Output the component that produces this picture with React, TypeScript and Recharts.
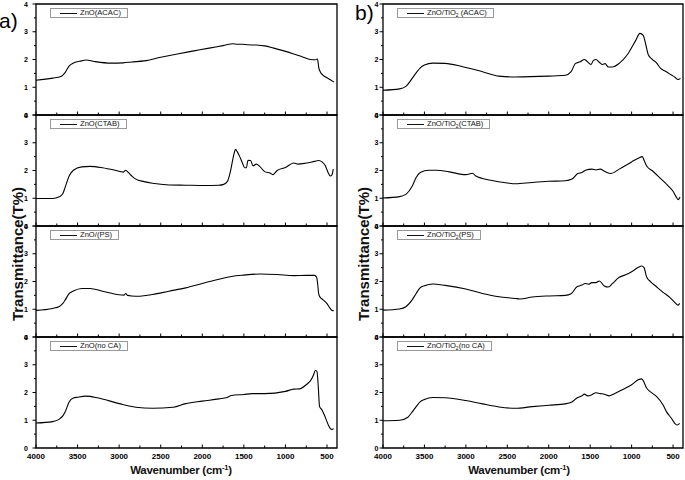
import React from 'react';
import { LineChart, Line, XAxis, YAxis, ReferenceArea } from 'recharts';

// ---- tick definitions ----
const wavenumberTicks = [4000, 3750, 3500, 3250, 3000, 2750, 2500, 2250, 2000, 1750, 1500, 1250, 1000, 750, 500];
const transmittanceTicks = [0, 0.5, 1, 1.5, 2, 2.5, 3, 3.5, 4];
const xDomain: [number, number] = [380, 4000];
const yDomain: [number, number] = [0, 4];

// ---- series (wavenumber cm-1, transmittance) ----
const znoAcac: [number, number][] = [
  [4000, 1.25], [3800, 1.33], [3700, 1.39], [3650, 1.53], [3600, 1.77], [3550, 1.87], [3450, 1.95], [3400, 1.98],
  [3300, 1.93], [3100, 1.87], [2950, 1.88], [2850, 1.91], [2700, 1.95], [2500, 2.08], [2300, 2.2], [2100, 2.31],
  [1900, 2.42], [1750, 2.5], [1630, 2.57], [1580, 2.55], [1520, 2.55], [1450, 2.53], [1350, 2.52], [1250, 2.49],
  [1150, 2.42], [1030, 2.32], [900, 2.2], [800, 2.1], [700, 2.0], [640, 1.99], [615, 2.02], [600, 1.72],
  [580, 1.55], [550, 1.44], [500, 1.34], [470, 1.29], [440, 1.23], [415, 1.19],
];
const znoCtab: [number, number][] = [
  [4000, 0.99], [3800, 0.99], [3720, 1.05], [3680, 1.15], [3650, 1.39], [3600, 1.81], [3550, 2.01], [3450, 2.13],
  [3350, 2.15], [3200, 2.1], [3050, 2.01], [2950, 1.94], [2920, 2.01], [2890, 1.93], [2840, 1.78], [2800, 1.69],
  [2700, 1.6], [2600, 1.54], [2400, 1.48], [2200, 1.47], [2000, 1.46], [1800, 1.47], [1750, 1.49], [1700, 1.6],
  [1660, 1.99], [1630, 2.45], [1610, 2.7], [1600, 2.76], [1580, 2.68], [1550, 2.5], [1520, 2.29], [1490, 2.1],
  [1470, 2.1], [1450, 2.37], [1420, 2.36], [1390, 2.17], [1350, 2.23], [1310, 2.15], [1250, 1.96], [1180, 1.9],
  [1150, 1.85], [1100, 2.0], [1000, 2.11], [900, 2.27], [850, 2.23], [750, 2.27], [650, 2.33], [600, 2.36],
  [560, 2.31], [520, 2.17], [490, 1.95], [460, 1.8], [440, 1.85], [425, 2.05],
];
const znoPs: [number, number][] = [
  [4000, 0.96], [3800, 1.03], [3720, 1.1], [3680, 1.2], [3650, 1.33], [3600, 1.57], [3550, 1.66], [3450, 1.75],
  [3350, 1.75], [3200, 1.65], [3000, 1.52], [2940, 1.51], [2920, 1.57], [2900, 1.5], [2850, 1.48], [2750, 1.47],
  [2600, 1.53], [2400, 1.65], [2200, 1.77], [2000, 1.93], [1800, 2.08], [1650, 2.18], [1500, 2.23], [1300, 2.27],
  [1100, 2.25], [900, 2.21], [750, 2.22], [650, 2.22], [625, 2.15], [612, 1.9], [600, 1.55], [580, 1.42],
  [560, 1.37], [500, 1.2], [460, 1.02], [440, 0.96], [420, 0.95],
];
const znoNoCa: [number, number][] = [
  [4000, 0.9], [3800, 0.95], [3720, 1.04], [3680, 1.15], [3650, 1.3], [3600, 1.67], [3550, 1.8], [3500, 1.83],
  [3400, 1.87], [3250, 1.8], [3000, 1.6], [2800, 1.47], [2600, 1.43], [2350, 1.47], [2200, 1.6], [2000, 1.69],
  [1800, 1.77], [1700, 1.82], [1650, 1.89], [1500, 1.93], [1400, 1.96], [1250, 1.96], [1000, 2.04], [900, 2.12],
  [830, 2.13], [750, 2.28], [720, 2.36], [700, 2.42], [660, 2.65], [640, 2.8], [620, 2.75], [605, 2.2],
  [590, 1.5], [560, 1.37], [520, 1.1], [480, 0.8], [460, 0.7], [440, 0.67], [420, 0.7],
];
const tiAcac: [number, number][] = [
  [4000, 0.89], [3800, 0.94], [3720, 1.04], [3650, 1.31], [3600, 1.52], [3550, 1.7], [3500, 1.8], [3400, 1.87],
  [3250, 1.86], [3050, 1.75], [2800, 1.56], [2600, 1.4], [2400, 1.37], [2000, 1.4], [1800, 1.43], [1730, 1.56],
  [1680, 1.85], [1620, 1.92], [1570, 2.0], [1540, 1.94], [1490, 1.82], [1460, 1.97], [1430, 2.0], [1390, 1.9],
  [1350, 1.82], [1320, 1.85], [1280, 1.73], [1230, 1.73], [1150, 1.86], [1050, 2.18], [950, 2.69], [900, 2.94],
  [860, 2.87], [830, 2.55], [800, 2.18], [760, 2.03], [700, 1.88], [650, 1.68], [580, 1.56], [520, 1.44],
  [480, 1.37], [440, 1.28], [410, 1.32],
];
const tiCtab: [number, number][] = [
  [4000, 1.01], [3800, 1.06], [3720, 1.15], [3650, 1.42], [3600, 1.75], [3550, 1.93], [3450, 2.01], [3350, 2.01],
  [3200, 1.95], [3000, 1.85], [2920, 1.9], [2880, 1.8], [2700, 1.65], [2500, 1.55], [2400, 1.52], [2200, 1.57],
  [2000, 1.61], [1800, 1.63], [1720, 1.69], [1650, 1.89], [1600, 1.93], [1550, 2.02], [1480, 2.05], [1430, 2.02],
  [1380, 2.05], [1320, 1.96], [1250, 1.89], [1150, 2.05], [1000, 2.31], [920, 2.44], [870, 2.5], [850, 2.37],
  [820, 2.17], [750, 1.99], [650, 1.71], [560, 1.45], [500, 1.25], [460, 1.04], [440, 0.95], [415, 1.04],
];
const tiPs: [number, number][] = [
  [4000, 0.97], [3800, 1.01], [3720, 1.1], [3650, 1.33], [3600, 1.57], [3550, 1.78], [3500, 1.85], [3400, 1.91],
  [3250, 1.86], [3000, 1.73], [2800, 1.57], [2600, 1.45], [2400, 1.39], [2350, 1.37], [2200, 1.44], [2000, 1.48],
  [1800, 1.5], [1730, 1.56], [1660, 1.81], [1600, 1.87], [1560, 1.93], [1520, 1.9], [1480, 1.96], [1430, 1.96],
  [1390, 2.02], [1330, 1.84], [1280, 1.8], [1230, 1.93], [1150, 2.15], [1080, 2.23], [1000, 2.35], [920, 2.51],
  [880, 2.56], [850, 2.5], [820, 2.17], [770, 1.99], [700, 1.81], [620, 1.61], [540, 1.43], [480, 1.25],
  [440, 1.15], [420, 1.21],
];
const tiNoCa: [number, number][] = [
  [4000, 0.98], [3800, 1.0], [3700, 1.11], [3650, 1.29], [3600, 1.49], [3550, 1.67], [3500, 1.75], [3400, 1.82],
  [3250, 1.81], [3000, 1.71], [2800, 1.59], [2600, 1.48], [2400, 1.43], [2200, 1.49], [2000, 1.54], [1800, 1.59],
  [1720, 1.66], [1650, 1.82], [1600, 1.88], [1570, 1.94], [1530, 1.88], [1480, 1.92], [1430, 1.99], [1380, 1.96],
  [1330, 1.94], [1270, 1.88], [1220, 1.94], [1100, 2.12], [1000, 2.28], [920, 2.46], [880, 2.49], [860, 2.43],
  [820, 2.16], [780, 2.04], [700, 1.86], [620, 1.55], [580, 1.31], [520, 1.07], [480, 0.89], [450, 0.83],
  [420, 0.89],
];

// ---- layout ----
const FONT = '"Liberation Sans", Arial, sans-serif';
const ROW_TOPS = [4, 115, 226, 337];
const ROW_H = 111;
const Y_W = 36;
const M_TOP = 8;
const M_RIGHT = 2;

type TickProps = { x: number; y: number; payload: { value: number } };

const XTick = (props: TickProps & { showLabel: boolean }) => {
  const { x, y, payload, showLabel } = props;
  const major = payload.value % 500 === 0;
  return (
    <g>
      <line x1={x} x2={x} y1={y} y2={y - (major ? 3.5 : 2.5)} stroke="#000" strokeWidth={1} />
      {showLabel && major ? (
        <text x={x} y={y + 10.5} textAnchor="middle" fontSize={8} fontWeight="bold" fontFamily={FONT} fill="#000">
          {payload.value}
        </text>
      ) : null}
    </g>
  );
};

const YTick = (props: TickProps & { gap: number }) => {
  const { x, y, payload, gap } = props;
  const major = Number.isInteger(payload.value);
  return (
    <g>
      <line x1={x} x2={x - (major ? 3.5 : 2)} y1={y} y2={y} stroke="#000" strokeWidth={1} />
      {major ? (
        <text x={x - gap} y={y + 2.5} textAnchor="end" fontSize={7} fontWeight="bold" fontFamily={FONT} fill="#000">
          {payload.value}
        </text>
      ) : null}
    </g>
  );
};

type SubplotProps = {
  series: [number, number][];
  left: number;
  width: number;
  top: number;
  last: boolean;
  gap: number;
};

function Subplot({ series, left, width, top, last, gap }: SubplotProps) {
  const rows = series.map(([wn, t]) => ({ wn, t }));
  const xh = last ? 22 : 7;
  return (
    <div style={{ position: 'absolute', left: left - Y_W, top: top - M_TOP }}>
      <LineChart
        width={Y_W + width + M_RIGHT}
        height={M_TOP + ROW_H + xh}
        data={rows}
        margin={{ top: M_TOP, right: M_RIGHT, bottom: 0, left: 0 }}
      >
        <XAxis
          dataKey="wn"
          type="number"
          domain={xDomain}
          reversed
          allowDataOverflow
          ticks={wavenumberTicks}
          interval={0}
          tickSize={0}
          tickMargin={0}
          tickLine={false}
          axisLine={false}
          height={xh}
          tick={(p: any) => <XTick {...p} showLabel={last} />}
        />
        <YAxis
          type="number"
          domain={yDomain}
          allowDataOverflow
          ticks={transmittanceTicks}
          interval={0}
          width={Y_W}
          tickSize={0}
          tickMargin={0}
          tickLine={false}
          axisLine={false}
          tick={(p: any) => <YTick {...p} gap={gap} />}
        />
        <ReferenceArea
          x1={xDomain[0]}
          x2={xDomain[1]}
          y1={yDomain[0]}
          y2={yDomain[1]}
          fill="none"
          fillOpacity={0}
          stroke="#000"
          strokeWidth={1.3}
          strokeOpacity={1}
          ifOverflow="visible"
        />
        <Line dataKey="t" type="monotone" stroke="#000" strokeWidth={1.1} dot={false} isAnimationActive={false} />
      </LineChart>
    </div>
  );
}

function LegendBox({ left, top, children }: { left: number; top: number; children: React.ReactNode }) {
  return (
    <div
      style={{
        position: 'absolute',
        left,
        top,
        height: 10,
        boxSizing: 'border-box',
        border: '1px solid #999',
        background: '#fff',
        display: 'flex',
        alignItems: 'center',
        padding: '0 6px 0 9px',
        fontFamily: FONT,
        fontSize: 7.6,
        color: '#111',
        whiteSpace: 'nowrap',
        lineHeight: '8px',
      }}
    >
      <span style={{ display: 'inline-block', width: 17, height: 0, borderTop: '1px solid #111', marginRight: 3 }} />
      <span>{children}</span>
    </div>
  );
}

const Sub2 = () => <span style={{ fontSize: 5, position: 'relative', top: 2 }}>2</span>;

const panelA = { left: 36, width: 301, gap: 8 };
const panelB = { left: 383, width: 300, gap: 4.5 };

const seriesA = [znoAcac, znoCtab, znoPs, znoNoCa];
const seriesB = [tiAcac, tiCtab, tiPs, tiNoCa];

const legendsA: React.ReactNode[] = ['ZnO(ACAC)', 'ZnO(CTAB)', 'ZnO/(PS)', 'ZnO(no CA)'];
const legendsB: React.ReactNode[] = [
  <>ZnO/TiO<Sub2 /> (ACAC)</>,
  <>ZnO/TiO<Sub2 />(CTAB)</>,
  <>ZnO/TiO<Sub2 />(PS)</>,
  <>ZnO/TiO<Sub2 />(no CA)</>,
];

function XTitle({ cx }: { cx: number }) {
  return (
    <div
      style={{
        position: 'absolute',
        left: cx - 100,
        width: 200,
        top: 463,
        textAlign: 'center',
        fontFamily: FONT,
        fontWeight: 'bold',
        fontSize: 11.5,
        letterSpacing: -0.25,
        lineHeight: '14px',
        color: '#111',
        whiteSpace: 'nowrap',
      }}
    >
      Wavenumber (cm<span style={{ fontSize: 7.5, position: 'relative', top: -4 }}>-1</span>)
    </div>
  );
}

function YTitle({ cx, cy }: { cx: number; cy: number }) {
  return (
    <div
      style={{
        position: 'absolute',
        left: cx,
        top: cy,
        transform: 'translate(-50%, -50%) rotate(-90deg)',
        fontFamily: FONT,
        fontWeight: 'bold',
        fontSize: 15,
        lineHeight: 1,
        color: '#111',
        whiteSpace: 'nowrap',
      }}
    >
      Transmittance(T%)
    </div>
  );
}

export default function App() {
  return (
    <div style={{ position: 'absolute', left: 0, top: 0, width: 685, height: 480, background: '#fff', overflow: 'hidden' }}>
      {seriesA.map((s, i) => (
        <Subplot key={'a' + i} series={s} left={panelA.left} width={panelA.width} top={ROW_TOPS[i]} last={i === 3} gap={panelA.gap} />
      ))}
      {seriesB.map((s, i) => (
        <Subplot key={'b' + i} series={s} left={panelB.left} width={panelB.width} top={ROW_TOPS[i]} last={i === 3} gap={panelB.gap} />
      ))}
      {legendsA.map((l, i) => (
        <LegendBox key={'la' + i} left={panelA.left + 14} top={ROW_TOPS[i] + 4}>
          {l}
        </LegendBox>
      ))}
      {legendsB.map((l, i) => (
        <LegendBox key={'lb' + i} left={panelB.left + 14} top={ROW_TOPS[i] + 4}>
          {l}
        </LegendBox>
      ))}
      <XTitle cx={181} />
      <XTitle cx={519} />
      <YTitle cx={17} cy={254} />
      <YTitle cx={363} cy={254} />
      <div style={{ position: 'absolute', left: -1, top: 10, fontFamily: FONT, fontSize: 21, lineHeight: 1, color: '#000' }}>a)</div>
      <div style={{ position: 'absolute', left: 355, top: 2, fontFamily: FONT, fontSize: 21, lineHeight: 1, color: '#000' }}>b)</div>
    </div>
  );
}
